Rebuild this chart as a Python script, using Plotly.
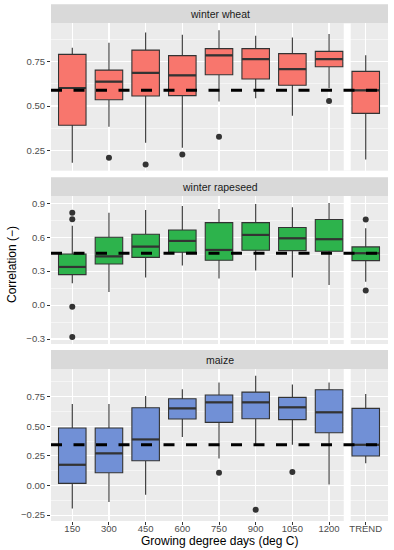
import plotly.graph_objects as go

categories = ["150", "300", "450", "600", "750", "900", "1050", "1200", "TREND"]
crops = ["winter wheat", "winter rapeseed", "maize"]

# winter wheat
wheat_upper = [0.826, 0.854, 0.912, 0.899, 0.924, 0.894, 0.884, 0.903, 0.784]
wheat_q3 = [0.789, 0.701, 0.813, 0.782, 0.821, 0.821, 0.793, 0.806, 0.694]
wheat_med = [0.601, 0.636, 0.685, 0.672, 0.784, 0.763, 0.707, 0.763, 0.588]
wheat_q1 = [0.392, 0.535, 0.556, 0.558, 0.675, 0.651, 0.616, 0.720, 0.459]
wheat_lower = [0.183, 0.384, 0.295, 0.267, 0.526, 0.543, 0.446, 0.599, 0.200]
wheat_out_x = ["300", "450", "600", "750", "1200"]
wheat_out_y = [0.211, 0.173, 0.228, 0.328, 0.528]

# winter rapeseed
rape_upper = [0.700, 0.817, 0.841, 0.876, 0.850, 0.894, 0.865, 0.903, 0.679]
rape_q3 = [0.452, 0.599, 0.626, 0.664, 0.729, 0.729, 0.685, 0.756, 0.514]
rape_med = [0.337, 0.430, 0.517, 0.567, 0.487, 0.620, 0.590, 0.582, 0.458]
rape_q1 = [0.269, 0.363, 0.422, 0.467, 0.396, 0.484, 0.481, 0.476, 0.393]
rape_lower = [0.193, 0.116, 0.243, 0.349, 0.234, 0.305, 0.243, 0.178, 0.207]
rape_out_x = ["150", "150", "150", "150", "TREND", "TREND"]
rape_out_y = [0.817, 0.758, -0.014, -0.282, 0.756, 0.128]

# maize
maize_upper = [0.688, 0.688, 0.756, 0.812, 0.871, 0.927, 0.854, 0.871, 0.773]
maize_q3 = [0.485, 0.485, 0.657, 0.733, 0.764, 0.789, 0.744, 0.809, 0.651]
maize_med = [0.175, 0.271, 0.389, 0.651, 0.702, 0.702, 0.660, 0.618, 0.344]
maize_q1 = [0.018, 0.108, 0.209, 0.561, 0.533, 0.564, 0.556, 0.446, 0.249]
maize_lower = [-0.194, -0.140, -0.078, 0.409, 0.229, 0.342, 0.344, 0.009, 0.187]
maize_out_x = ["750", "900", "1050"]
maize_out_y = [0.108, -0.205, 0.113]

# reference (dashed) level per crop
ref_level = [0.588, 0.458, 0.344]

# y ticks per panel
yticks = [
    [0.25, 0.50, 0.75],
    [-0.3, 0.0, 0.3, 0.6, 0.9],
    [-0.25, 0.00, 0.25, 0.50, 0.75],
]
yminor = [
    [0.125, 0.375, 0.625, 0.875],
    [-0.15, 0.15, 0.45, 0.75],
    [-0.125, 0.125, 0.375, 0.625, 0.875],
]
yfmt = [".2f", ".1f", ".2f"]
yranges = [[0.138, 0.963], [-0.344, 0.964], [-0.300, 0.984]]

fills = ["#F8766D", "#2DB34C", "#7190D6"]

data = [
    (wheat_upper, wheat_q3, wheat_med, wheat_q1, wheat_lower, wheat_out_x, wheat_out_y),
    (rape_upper, rape_q3, rape_med, rape_q1, rape_lower, rape_out_x, rape_out_y),
    (maize_upper, maize_q3, maize_med, maize_q1, maize_lower, maize_out_x, maize_out_y),
]

W, H = 394, 550
ML, MR, MT, MB = 51, 6, 4, 29
plot_h = H - MT - MB
panels_px = [(23.3, 170.7), (196.0, 344.0), (369.0, 521.0)]
strips_px = [(4.3, 23.3), (177.3, 196.0), (350.0, 369.0)]


def py(px):
    return min(1.0, max(0.0, (H - MB - px) / plot_h))


pos = {c: i for i, c in enumerate(categories)}
xs = list(range(len(categories)))
XR = [-0.58, 8.607]

fig = go.Figure()
shapes = []
annotations = []
font_family = "Liberation Sans, Arial, sans-serif"

for k in range(3):
    up, q3, med, q1, lo, ox, oy = data[k]
    xa = "x" if k == 0 else f"x{k+1}"
    ya = "y" if k == 0 else f"y{k+1}"
    fig.add_trace(go.Box(
        x=xs, q1=q1, median=med, q3=q3, lowerfence=lo, upperfence=up,
        fillcolor=fills[k], line=dict(color="#333333", width=1.1),
        whiskerwidth=0, width=0.75, boxpoints=False,
        xaxis=xa, yaxis=ya, showlegend=False, hoverinfo="skip",
    ))
    mx, my = [], []
    for i, m in enumerate(med):
        mx += [i - 0.375, i + 0.375, None]
        my += [m, m, None]
    fig.add_trace(go.Scatter(
        x=mx, y=my, mode="lines", line=dict(color="#333333", width=2.2),
        xaxis=xa, yaxis=ya, showlegend=False, hoverinfo="skip",
    ))
    fig.add_trace(go.Scatter(
        x=[pos[c] for c in ox], y=oy, mode="markers",
        marker=dict(color="#333333", size=6),
        xaxis=xa, yaxis=ya, showlegend=False, hoverinfo="skip",
    ))
    shapes.append(dict(
        type="line", xref=xa, yref=ya, x0=XR[0], x1=XR[1],
        y0=ref_level[k], y1=ref_level[k],
        line=dict(color="black", width=3, dash="11px,11.5px"), layer="above",
    ))
    shapes.append(dict(
        type="rect", xref=xa, yref=ya, x0=7.40, x1=7.59,
        y0=yranges[k][0], y1=yranges[k][1],
        fillcolor="white", line=dict(width=0), layer="below",
    ))
    shapes.append(dict(
        type="rect", xref="paper", yref="paper", x0=0, x1=1,
        y0=py(strips_px[k][1]), y1=py(strips_px[k][0]),
        fillcolor="#D9D9D9", line=dict(width=0), layer="below",
    ))
    annotations.append(dict(
        text=crops[k], xref="paper", yref="paper", x=0.5,
        y=(py(strips_px[k][1]) + py(strips_px[k][0])) / 2,
        showarrow=False, font=dict(size=10.5, color="#1A1A1A", family=font_family),
        xanchor="center", yanchor="middle",
    ))

    dom = [py(panels_px[k][1]), py(panels_px[k][0])]
    xkey = "xaxis" if k == 0 else f"xaxis{k+1}"
    ykey = "yaxis" if k == 0 else f"yaxis{k+1}"
    fig.update_layout(**{
        xkey: dict(
            domain=[0, 1], anchor=ya, range=XR,
            tickvals=xs, ticktext=categories, showticklabels=(k == 2),
            ticks="outside" if k == 2 else "", ticklen=3, tickcolor="#333333", tickwidth=1,
            ticklabelstandoff=-4,
            showgrid=True, gridcolor="white", gridwidth=1.1, zeroline=False,
            tickfont=dict(size=9.5, color="#4D4D4D", family=font_family),
            showline=False, fixedrange=True,
        ),
        ykey: dict(
            domain=dom, anchor=xa, range=yranges[k],
            tickvals=yticks[k], tickformat=yfmt[k],
            ticks="outside", ticklen=3, tickcolor="#333333", tickwidth=1,
            showgrid=True, gridcolor="white", gridwidth=1.1, zeroline=False,
            minor=dict(tickvals=yminor[k], showgrid=True, gridcolor="white",
                       gridwidth=0.5, ticks=""),
            tickfont=dict(size=9.5, color="#4D4D4D", family=font_family),
            showline=False, fixedrange=True,
        ),
    })

annotations.append(dict(
    text="Correlation (\u2212)", xref="paper", yref="paper",
    x=-39 / (W - ML - MR), y=py(265), xanchor="center", yanchor="middle",
    textangle=-90, showarrow=False,
    font=dict(size=12, color="black", family=font_family),
))
annotations.append(dict(
    text="Growing degree days (deg C)", xref="paper", yref="paper",
    x=0.5, y=(H - MB - 540.5) / plot_h, xanchor="center", yanchor="middle",
    showarrow=False,
    font=dict(size=12, color="black", family=font_family),
))

fig.update_layout(
    width=W, height=H,
    margin=dict(l=ML, r=MR, t=MT, b=MB, autoexpand=False),
    plot_bgcolor="#EBEBEB", paper_bgcolor="white",
    shapes=shapes, annotations=annotations,
    font=dict(family=font_family),
)

fig.write_html(
    "out.html",
    config={"displayModeBar": False, "staticPlot": True},
    post_script="document.body.style.margin='0';document.body.style.padding='0';",
)
